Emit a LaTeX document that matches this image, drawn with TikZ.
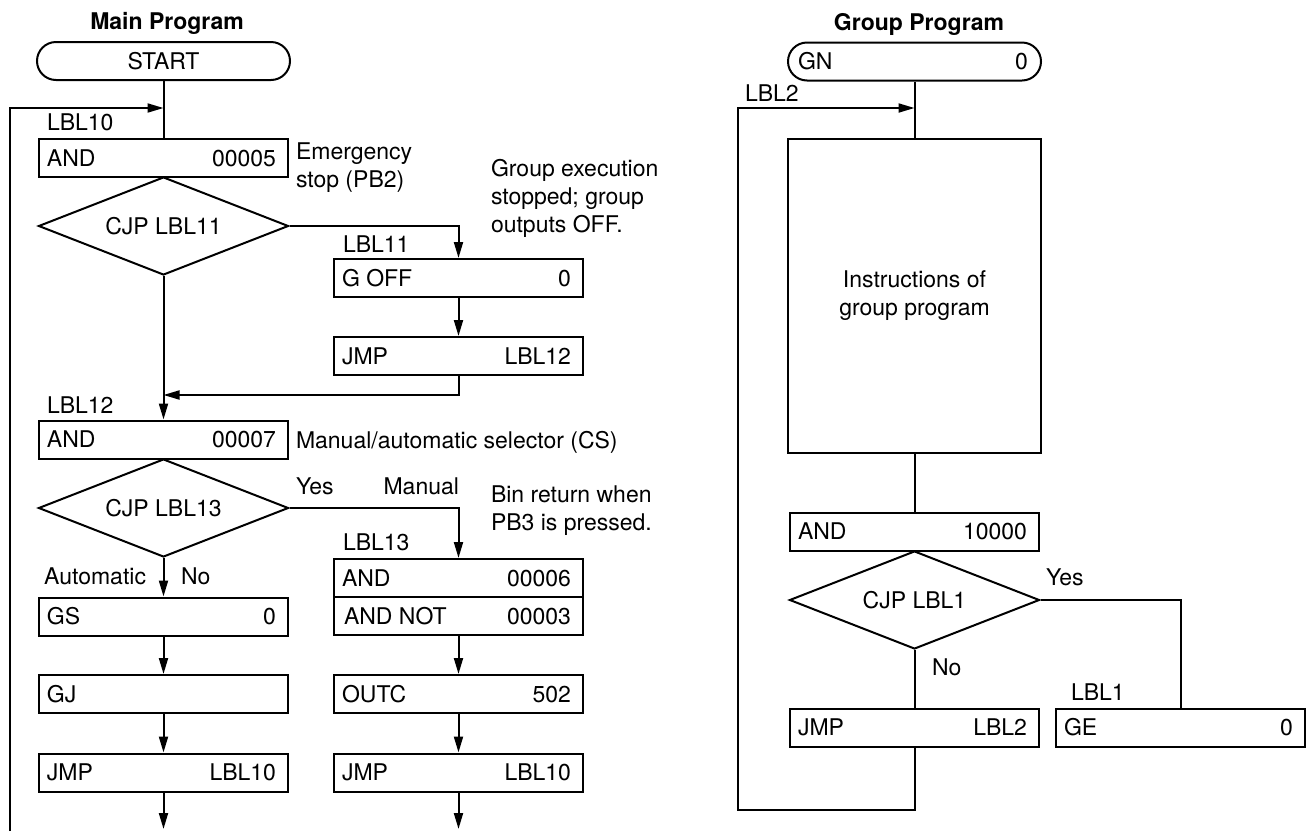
\documentclass[tikz,border=0pt]{standalone}
\usepackage{fontspec}
\setmainfont{TeX Gyre Heros}
\usetikzlibrary{positioning, shapes.geometric, arrows.meta}

\newcommand{\instrtext}[3][124.5pt]{\makebox[#1]{\hspace{4pt}#2\hfill#3\hspace{6pt}}}

\begin{document}
\begin{tikzpicture}[x=0.5pt, y=-0.5pt, line width=1pt,
font=\fontsize{11.5}{14}\selectfont,
instr/.style={draw,minimum height=19pt,minimum width=124.5pt,inner sep=0pt},
term/.style={draw,rounded corners=9.5pt,minimum height=19pt,minimum width=126.5pt,inner sep=0pt},
decide/.style={draw,diamond,minimum width=125pt,minimum height=49pt,inner sep=0pt,aspect=2.5},
title/.style={font=\bfseries\fontsize{11.5}{14}\selectfont},
lbl/.style={inner sep=0pt},
note/.style={inner sep=0pt,align=left},
arr/.style={-{Triangle[length=8pt,width=4.5pt]}}
]
\useasboundingbox (0,0) rectangle (1308,831);

% main program
\node[title,anchor=base] (maintitle) at (167,29) {Main Program};
\node[term] (start) at (163.5,61) {START};
\node[instr] (and1) at (163.5,158) {\instrtext{AND}{00005}};
\node[decide] (d1) at (163.5,226) {CJP LBL11};
\node[instr] (goff) at (458.5,278) {\instrtext{G OFF}{0}};
\node[instr] (jmp12) at (458.5,356) {\instrtext{JMP}{LBL12}};
\node[instr] (and2) at (163.5,439.5) {\instrtext{AND}{00007}};
\node[decide] (d2) at (163.5,508) {CJP LBL13};
\node[instr] (and6) at (458.5,578) {\instrtext{AND}{00006}};
\node[instr] (andnot) at (458.5,616) {\instrtext{\hspace*{1pt}AND NOT}{00003}};
\node[instr] (outc) at (458.5,694) {\instrtext{OUTC}{502}};
\node[instr] (jmpB) at (458.5,772.5) {\instrtext{JMP}{LBL10}};
\node[instr] (gs) at (163.5,616.5) {\instrtext{GS}{0}};
\node[instr] (gj) at (163.5,694) {\instrtext{GJ}{}};
\node[instr] (jmpA) at (163.5,772.5) {\instrtext{JMP}{LBL10}};

\node[lbl, above right=3pt and 4pt of and1.north west] {LBL10};
\node[lbl, above right=2.5pt and 4.5pt of goff.north west] {LBL11};
\node[lbl, above right=2.5pt and 4pt of and2.north west] {LBL12};
\node[lbl, above right=3pt and 4.5pt of and6.north west] {LBL13};

\node[note,anchor=west] at (295,168) {Emergency\\stop (PB2)};
\node[note,anchor=west] at (490,198) {Group execution\\stopped; group\\outputs OFF.};
\node[note,anchor=west] at (295,442) {Manual/automatic selector (CS)};
\node[note,anchor=west] at (490,511) {Bin return when\\PB3 is pressed.};
\node[lbl,anchor=base west] at (295,494) {Yes};
\node[lbl,anchor=base east] at (460,494) {Manual};
\node[lbl,anchor=base east] at (147,584) {Automatic};
\node[lbl,anchor=base west] at (180,584) {No};

\coordinate (j10) at (163.5,108);
\coordinate (loopA) at (10,831);
\coordinate (j12) at (163.5,395);
\coordinate (endA) at (163.5,829);
\coordinate (endB) at (458.5,829);

\draw (start) -- (and1);
\draw[arr] (loopA) |- (j10);
\draw[arr] (d1.east) -| (goff.north);
\draw[arr] (goff) -- (jmp12);
\draw[arr] (jmp12.south) |- (j12);
\draw[arr] (d1.south) -- (and2.north);
\draw[arr] (d2.east) -| (and6.north);
\draw[arr] (d2.south) -- (gs.north);
\draw[arr] (gs) -- (gj);
\draw[arr] (gj) -- (jmpA);
\draw[arr] (jmpA) -- (endA);
\draw[arr] (andnot) -- (outc);
\draw[arr] (outc) -- (jmpB);
\draw[arr] (jmpB) -- (endB);

% group program
\node[title,anchor=base] (grouptitle) at (919,30) {Group Program};
\node[term] (gn) at (914.5,61.5) {\makebox[126.5pt]{\hspace{5pt}GN\hfill0\hspace{6.5pt}}};
\node[draw,minimum width=126.5pt,minimum height=157pt,align=center] (body) at (914.5,296) {Instructions of\\group program};
\node[instr] (and10k) at (914.5,531.5) {\instrtext{AND}{10000}};
\node[decide] (d3) at (914.5,600) {CJP LBL1};
\node[instr] (jmp2) at (914.5,727.5) {\instrtext{JMP}{LBL2}};
\node[instr] (ge) at (1180.5,727.5) {\instrtext{GE}{0}};

\node[lbl,anchor=south west] at (744,102) {LBL2};
\node[lbl, above right=3pt and 7.5pt of ge.north west] {LBL1};
\node[lbl,anchor=base west] at (1045,585) {Yes};
\node[lbl,anchor=base west] at (931,675) {No};

\coordinate (j2) at (914.5,108);
\coordinate (loopB) at (738,810);

\draw (gn) -- (body);
\draw (body) -- (and10k);
\draw (d3.south) -- (jmp2.north);
\draw (d3.east) -| (ge.north);
\draw[arr] (jmp2.south) |- (loopB) |- (j2);
\end{tikzpicture}
\end{document}
